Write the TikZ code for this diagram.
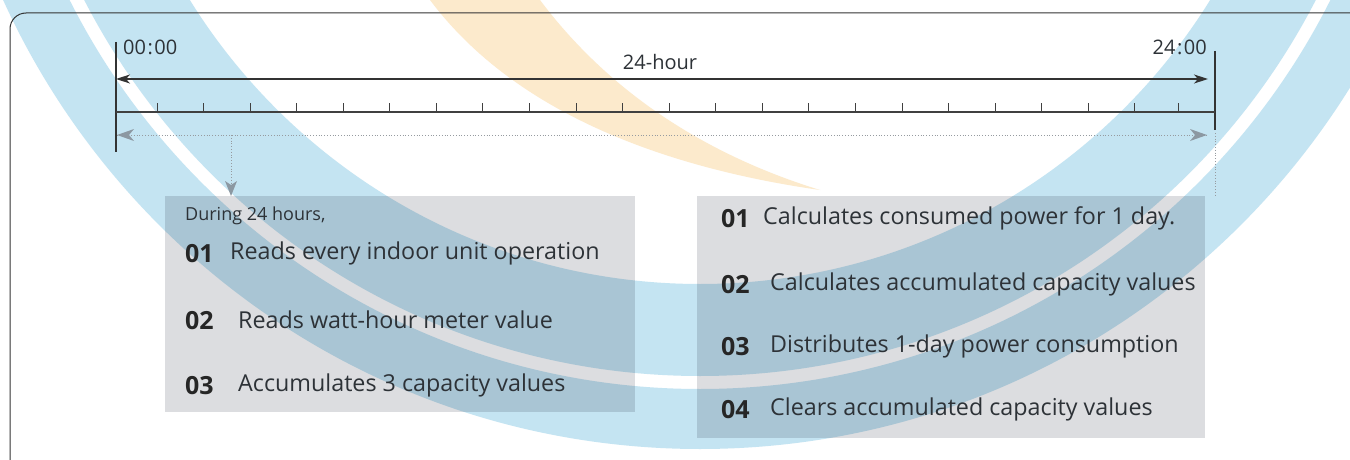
\documentclass[tikz,border=0pt]{standalone}
\usepackage{fontspec}
\setmainfont{Open Sans}
\usetikzlibrary{arrows.meta}
\definecolor{bandblue}{RGB}{196,228,242}
\definecolor{bandorange}{RGB}{252,234,204}
\definecolor{boxgrey}{RGB}{220,221,224}
\definecolor{txt}{RGB}{45,50,55}
\definecolor{dotgrey}{RGB}{150,155,160}
\definecolor{tipgrey}{RGB}{140,152,162}
\tikzset{
  x=1pt,y=-1pt,
  panel/.style={fill=boxgrey,draw=none},
  num/.style={anchor=west,inner sep=0pt,text=black!85,font=\fontsize{25}{28}\selectfont\bfseries},
  item/.style={anchor=west,inner sep=0pt,text=txt,font=\fontsize{23.3}{26}\selectfont},
  small/.style={anchor=west,inner sep=0pt,text=txt,font=\fontsize{18}{20}\selectfont},
  timelbl/.style={inner sep=0pt,text=txt,font=\fontsize{20}{23}\selectfont},
  dark/.style={draw=black!80,line width=1.1pt},
  dotline/.style={draw=dotgrey,line width=0.8pt,dotted}
}
\begin{document}
\begin{tikzpicture}
\useasboundingbox (0,0) rectangle (1350,460);
\clip (0,0) rectangle (1350,460);
\fill[white] (0,0) rectangle (1350,460);
% panels
\fill[panel] (165,196) rectangle (635,412);
\fill[panel] (697,196) rectangle (1205,438);
% watermark bands
\begin{scope}[blend mode=multiply]
\fill[bandblue,even odd rule] (700,-316) circle (765) (700,-316) circle (705);
\fill[bandblue,even odd rule] (700,-316) circle (692) (700,-316) circle (600);
\fill[bandorange] (430,0) .. controls (520,120) and (680,170) .. (820,190)
   .. controls (690,150) and (600,80) .. (540,0) -- cycle;
\end{scope}
% frame
\draw[black!80,line width=1pt,rounded corners=16pt] (10,13) rectangle (1400,478);
% timeline
\coordinate (L0) at (116,42);
\coordinate (L1) at (116,152);
\coordinate (R0) at (1215,51);
\coordinate (R1) at (1215,130);
\draw[dark] (L0) -- (L1);
\draw[dark] (R0) -- (R1);
\coordinate (A0) at (116,79);
\coordinate (A1) at (1208,79);
\draw[dark,{Stealth[length=14pt,width=9pt,inset=4pt]}-{Stealth[length=14pt,width=9pt,inset=4pt]}] (A0) -- (A1);
\coordinate (X0) at (116,112);
\coordinate (X1) at (1215,112);
\draw[draw=black!75,line width=1.1pt] (X0) -- (X1);
\foreach \i in {0,...,21} {
  \draw[black!75,line width=1pt] ({157+\i*46.57},112) -- ({157+\i*46.57},103);
}
\draw[black!75,line width=1pt] (1178,112) -- (1178,103);
\coordinate (D0) at (117,135);
\coordinate (D1) at (1207,135);
\draw[dotline] (D0) -- (D1);
\fill[tipgrey] (117,135) -- (134,129) -- (129,135) -- (134,141) -- cycle;
\fill[tipgrey] (1207,135) -- (1190,129) -- (1195,135) -- (1190,141) -- cycle;
\coordinate (V0) at (231,135);
\coordinate (V1) at (231,196);
\draw[dotline] (V0) -- (231,184);
\fill[tipgrey] (231,196) -- (225,181) -- (231,185) -- (237,181) -- cycle;
\coordinate (W0) at (1215,133);
\coordinate (W1) at (1215,196);
\draw[dotline] (W0) -- (W1);
% labels
\node[timelbl,anchor=west] (t0) at (123,47) {00\kern1.5pt:\kern1.5pt00};
\node[timelbl] (th) at (660,62) {24-hour};
\node[timelbl,anchor=east] (t24) at (1207,47) {24\kern1.5pt:\kern1.5pt00};
% left panel texts
\node[small] (dur) at (185,216) {During 24 hours,};
\node[num] (l1n) at (185,254) {01};
\node[item] (l1) at (230,253) {Reads every indoor unit operation};
\node[num] (l2n) at (185,321) {02};
\node[item] (l2) at (238,320) {Reads watt-hour meter value};
\node[num] (l3n) at (185,386) {03};
\node[item] (l3) at (238,385) {Accumulates 3 capacity values};
% right panel texts
\node[num] (r1n) at (721,219) {01};
\node[item] (r1) at (763,218) {Calculates consumed power for 1 day.};
\node[num] (r2n) at (721,285) {02};
\node[item] (r2) at (770,284) {Calculates accumulated capacity values};
\node[num] (r3n) at (721,347) {03};
\node[item] (r3) at (770,346) {Distributes 1-day power consumption};
\node[num] (r4n) at (721,410) {04};
\node[item] (r4) at (770,409) {Clears accumulated capacity values};
\end{tikzpicture}
\end{document}
